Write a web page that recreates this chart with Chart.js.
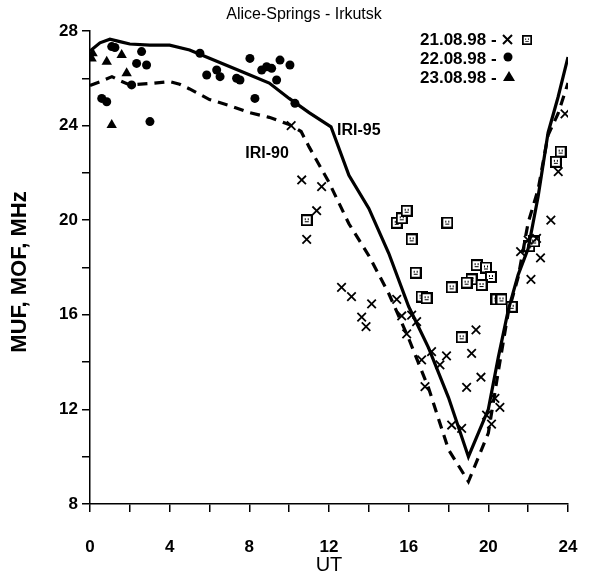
<!DOCTYPE html>
<html>
<head>
<meta charset="utf-8">
<script src="https://cdn.jsdelivr.net/npm/chart.js@4.4.0/dist/chart.umd.min.js"></script>
<style>
    html, body { margin: 0; padding: 0; background: #fff; }
    #wrap { width: 593px; height: 574px; position: relative; }
</style>
</head>
<body>
<div id="wrap"><canvas id="chart"></canvas></div>
<script>
// Model curves (UT hours / MHz)
const iri95Hours  = [0, 0.5, 1, 1.5, 2, 3, 4, 5, 6, 7, 8, 9, 10, 11, 12.1, 13, 14, 15, 16, 17, 18, 19, 20, 20.5, 21, 21.5, 22, 22.5, 23, 23.5, 24];
const iri95Values = [27.15, 27.5, 27.65, 27.55, 27.45, 27.4, 27.4, 27.2, 26.85, 26.5, 26.15, 25.8, 25.15, 24.55, 23.95, 21.9, 20.5, 18.6, 16.35, 14.6, 12.5, 10.0, 12.0, 14.2, 16.2, 17.7, 18.8, 21.0, 23.7, 25.2, 26.9];

const iri90Hours  = [0, 0.5, 1.1, 1.5, 2, 3, 4, 4.5, 5, 6, 7, 8, 9, 10, 10.6, 11, 12, 13, 14, 15, 16, 17, 18, 19, 20, 20.5, 21, 21.5, 22, 22.5, 23, 23.5, 24];
const iri90Values = [25.7, 25.85, 26.07, 25.9, 25.72, 25.78, 25.86, 25.75, 25.55, 25.1, 24.85, 24.55, 24.35, 24.05, 23.75, 23.1, 21.6, 19.85, 18.5, 16.9, 15.0, 12.9, 10.3, 8.95, 11.0, 13.6, 16.1, 17.6, 19.9, 21.3, 23.6, 24.5, 25.8];

// Observations 21.08.98, crosses
const cross21Hours  = [10.1, 10.63, 11.63, 11.38, 10.88, 12.63, 13.13, 14.14, 13.64, 13.86, 15.4, 15.65, 16.15, 16.4, 15.9, 17.15, 17.9, 16.65, 17.57, 16.82, 18.16, 18.66, 19.38, 19.16, 19.63, 18.91, 19.91, 20.33, 20.58, 20.16, 23.51, 23.14, 22.42, 22.0, 21.62, 22.62, 22.14, 23.85];
const cross21Values = [24.0, 21.7, 21.42, 20.4, 19.19, 17.16, 16.77, 16.46, 15.9, 15.5, 16.65, 15.95, 15.99, 15.71, 15.19, 14.44, 14.26, 14.09, 13.88, 12.96, 11.34, 11.2, 15.36, 14.37, 13.36, 12.93, 11.76, 12.47, 12.09, 11.38, 22.05, 20.0, 19.23, 19.16, 18.67, 18.41, 17.5, 24.5];

// Observations 21.08.98, boxed squares
const box21Hours  = [10.88, 15.4, 15.65, 15.9, 16.15, 16.35, 16.65, 16.9, 17.94, 19.41, 19.88, 20.13, 19.16, 18.91, 19.66, 18.16, 20.41, 20.66, 21.17, 18.66, 22.05, 22.3, 23.63, 23.39];
const box21Values = [20.0, 19.89, 20.08, 20.4, 19.19, 17.78, 16.77, 16.7, 19.9, 18.1, 18.0, 17.6, 17.5, 17.36, 17.26, 17.16, 16.65, 16.65, 16.34, 15.05, 18.9, 19.1, 22.9, 22.47];

// Observations 22.08.98, dots
const dot22Hours  = [1.09, 1.25, 2.59, 2.34, 2.84, 2.09, 0.59, 0.84, 3.01, 5.52, 5.86, 6.36, 6.53, 7.36, 7.53, 8.03, 8.28, 8.62, 8.87, 9.12, 9.37, 9.54, 10.04, 10.29];
const dot22Values = [27.34, 27.3, 27.13, 26.63, 26.56, 25.72, 25.15, 25.01, 24.17, 27.06, 26.14, 26.35, 26.07, 26.0, 25.93, 26.84, 25.15, 26.35, 26.49, 26.42, 25.93, 26.77, 26.56, 24.94];

// Observations 23.08.98, triangles
const tri23Hours  = [0.13, 0.08, 0.84, 1.59, 1.84, 1.09];
const tri23Values = [27.06, 26.84, 26.7, 26.98, 26.21, 24.03];

const legendRows = ['21.08.98 -', '22.08.98 -', '23.08.98 -'];

const FONT = '"Liberation Sans", Arial, Helvetica, sans-serif';

function pairs(xs, ys) {
    return xs.map((x, i) => ({ x: x, y: ys[i] }));
}

// little boxed marker like the one in the print
function makeBoxMarker() {
    const c = document.createElement('canvas');
    c.width = 12;
    c.height = 12;
    const g = c.getContext('2d');
    g.fillStyle = '#000';
    g.fillRect(0, 0, 12, 12);
    g.fillStyle = '#fff';
    g.fillRect(2, 2, 8, 8);
    g.fillStyle = '#000';
    g.fillRect(4, 4, 1, 2);
    g.fillRect(7, 4, 1, 2);
    g.fillRect(4, 7, 4, 1);
    return c;
}
const boxMarker = makeBoxMarker();

// texts that are not part of chart.js layout
const decorations = {
    id: 'decorations',
    afterDraw(chart) {
        const { ctx, scales: { x, y } } = chart;
        ctx.save();
        ctx.fillStyle = '#000';
        ctx.textBaseline = 'middle';

        // title
        ctx.font = '16px ' + FONT;
        ctx.textAlign = 'center';
        ctx.fillText('Alice-Springs - Irkutsk', 304, 15);

        // curve labels
        ctx.font = 'bold 16px ' + FONT;
        ctx.textAlign = 'left';
        ctx.fillText('IRI-95', x.getPixelForValue(12.4), y.getPixelForValue(23.8));
        ctx.fillText('IRI-90', x.getPixelForValue(7.8), y.getPixelForValue(22.8));

        // axis titles
        ctx.font = '20px ' + FONT;
        ctx.textAlign = 'center';
        ctx.fillText('UT', 329, 565);

        ctx.save();
        ctx.translate(20, 272);
        ctx.rotate(-Math.PI / 2);
        ctx.font = 'bold 22px ' + FONT;
        ctx.fillText('MUF, MOF, MHz', 0, 0);
        ctx.restore();

        // legend
        ctx.font = 'bold 17px ' + FONT;
        ctx.textAlign = 'left';
        const rowY = [40, 59, 78];
        legendRows.forEach((t, i) => ctx.fillText(t, 420, rowY[i]));

        ctx.lineWidth = 2;
        ctx.strokeStyle = '#000';
        ctx.beginPath();
        ctx.moveTo(503, rowY[0] - 5); ctx.lineTo(512, rowY[0] + 4);
        ctx.moveTo(512, rowY[0] - 5); ctx.lineTo(503, rowY[0] + 4);
        ctx.stroke();
        ctx.drawImage(boxMarker, 522, rowY[0] - 5, 10, 10);

        ctx.beginPath();
        ctx.arc(508, rowY[1] - 2, 4.5, 0, Math.PI * 2);
        ctx.fill();

        ctx.beginPath();
        ctx.moveTo(509, rowY[2] - 7);
        ctx.lineTo(515, rowY[2] + 3);
        ctx.lineTo(503, rowY[2] + 3);
        ctx.closePath();
        ctx.fill();

        ctx.restore();
    }
};

const axisCommon = {
    type: 'linear',
    grid: {
        drawOnChartArea: false,
        drawTicks: true,
        tickLength: 8,
        color: '#000',
        lineWidth: 1.5
    },
    border: { display: true, color: '#000', width: 1.5 },
    ticks: {
        stepSize: 2,
        color: '#000',
        font: { family: FONT, size: 17, weight: 'bold' },
        callback: v => (v % 4 === 0 ? v : '')
    }
};

const ctx = document.getElementById('chart').getContext('2d');
new Chart(ctx, {
    type: 'line',
    data: {
        datasets: [
            {
                label: 'IRI-95',
                data: pairs(iri95Hours, iri95Values),
                borderColor: '#000',
                borderWidth: 3.2,
                pointRadius: 0,
                tension: 0,
                fill: false
            },
            {
                label: 'IRI-90',
                data: pairs(iri90Hours, iri90Values),
                borderColor: '#000',
                borderWidth: 3.2,
                borderDash: [10, 7],
                pointRadius: 0,
                tension: 0,
                fill: false
            },
            {
                label: '21.08.98 x',
                data: pairs(cross21Hours, cross21Values),
                showLine: false,
                pointStyle: 'crossRot',
                pointRadius: 6,
                borderColor: '#000',
                borderWidth: 1.8
            },
            {
                label: '21.08.98 box',
                data: pairs(box21Hours, box21Values),
                showLine: false,
                pointStyle: boxMarker,
                pointRadius: 6
            },
            {
                label: '22.08.98',
                data: pairs(dot22Hours, dot22Values),
                showLine: false,
                pointStyle: 'circle',
                pointRadius: 4.5,
                backgroundColor: '#000',
                borderColor: '#000',
                borderWidth: 0
            },
            {
                label: '23.08.98',
                data: pairs(tri23Hours, tri23Values),
                showLine: false,
                pointStyle: 'triangle',
                pointRadius: 6,
                backgroundColor: '#000',
                borderColor: '#000',
                borderWidth: 0
            }
        ]
    },
    options: {
        responsive: true,
        maintainAspectRatio: false,
        animation: false,
        layout: { padding: { top: 31, right: 25, left: 0, bottom: 0 } },
        plugins: {
            legend: { display: false },
            title: { display: false },
            tooltip: { enabled: false }
        },
        scales: {
            x: {
                ...axisCommon,
                min: 0,
                max: 24,
                ticks: { ...axisCommon.ticks, padding: 25, maxRotation: 0, autoSkip: false },
                afterFit: s => {
                    s.height = 70;
                    s.paddingLeft = 0;
                    s.paddingRight = 0;
                }
            },
            y: {
                ...axisCommon,
                min: 8,
                max: 28,
                ticks: { ...axisCommon.ticks, padding: 4, autoSkip: false },
                afterFit: s => {
                    s.width = 90;
                    s.paddingTop = 0;
                    s.paddingBottom = 0;
                }
            }
        }
    },
    plugins: [decorations]
});
</script>
</body>
</html>
